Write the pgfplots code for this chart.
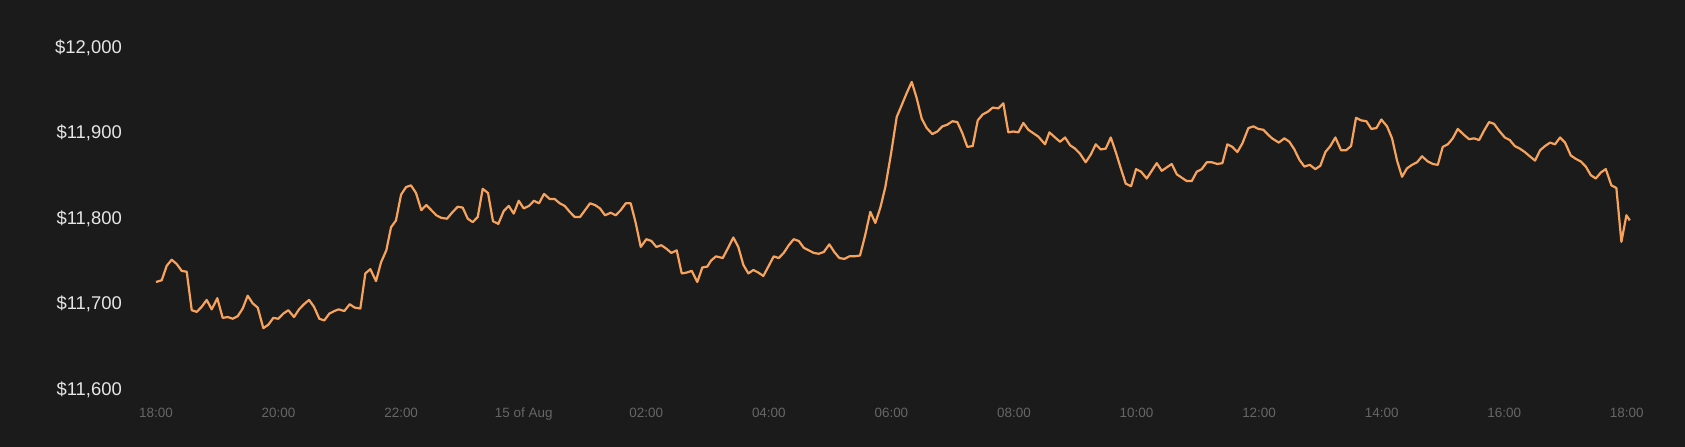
\documentclass[border=0pt]{standalone}
\usepackage{fontspec}
\setmainfont{Liberation Sans}
\usepackage{pgfplots}
\usepackage{pgfplotstable}
\pgfplotsset{compat=1.18}
\definecolor{bgc}{HTML}{1C1B1C}
\definecolor{linec}{HTML}{F7A35C}
\definecolor{ylab}{HTML}{E6E6E6}
\definecolor{xlab}{HTML}{666666}
\pgfplotstableread{
h v
0.000 11724
0.093 11726
0.175 11743
0.256 11750
0.338 11745
0.419 11737
0.501 11736
0.583 11691
0.664 11689
0.746 11695
0.827 11703
0.909 11692
1.000 11705
1.088 11682
1.170 11683
1.252 11681
1.333 11684
1.415 11693
1.496 11708
1.578 11699
1.660 11694
1.751 11670
1.833 11674
1.914 11682
1.996 11681
2.077 11687
2.159 11691
2.252 11683
2.334 11692
2.415 11698
2.497 11703
2.578 11695
2.665 11681
2.746 11679
2.828 11687
2.910 11690
2.981 11692
3.073 11690
3.161 11698
3.243 11694
3.334 11693
3.416 11734
3.497 11739
3.590 11725
3.672 11747
3.758 11761
3.835 11788
3.916 11796
3.998 11826
4.080 11835
4.161 11837
4.243 11828
4.329 11808
4.411 11814
4.493 11808
4.574 11802
4.656 11799
4.749 11798
4.830 11805
4.923 11812
5.005 11811
5.087 11798
5.168 11794
5.250 11800
5.331 11833
5.418 11828
5.499 11795
5.586 11792
5.674 11807
5.756 11813
5.837 11804
5.919 11819
6.000 11810
6.087 11813
6.168 11819
6.250 11816
6.332 11827
6.425 11821
6.506 11821
6.588 11816
6.669 11813
6.751 11806
6.832 11800
6.919 11800
7.001 11808
7.082 11816
7.164 11814
7.245 11810
7.327 11802
7.420 11805
7.502 11802
7.583 11808
7.665 11816
7.746 11816
7.828 11793
7.910 11765
8.001 11774
8.083 11772
8.164 11765
8.246 11767
8.327 11763
8.409 11758
8.497 11761
8.579 11734
8.660 11735
8.742 11737
8.833 11724
8.915 11741
8.996 11742
9.057 11749
9.138 11754
9.248 11752
9.329 11763
9.421 11776
9.502 11765
9.584 11744
9.666 11734
9.747 11738
9.829 11735
9.910 11731
9.992 11742
10.080 11754
10.162 11752
10.243 11758
10.325 11767
10.406 11774
10.488 11772
10.570 11764
10.651 11761
10.733 11758
10.814 11757
10.896 11759
10.987 11768
11.069 11759
11.151 11752
11.232 11751
11.314 11754
11.395 11754
11.488 11755
11.570 11778
11.656 11806
11.738 11793
11.820 11811
11.901 11835
11.994 11874
12.087 11917
12.169 11931
12.250 11945
12.332 11958
12.413 11939
12.495 11915
12.577 11904
12.668 11897
12.750 11900
12.831 11906
12.913 11908
12.995 11912
13.076 11911
13.158 11898
13.239 11882
13.327 11883
13.409 11913
13.490 11920
13.572 11923
13.654 11928
13.745 11927
13.827 11933
13.908 11899
13.990 11900
14.072 11899
14.153 11910
14.235 11902
14.316 11898
14.398 11894
14.507 11885
14.578 11899
14.671 11893
14.752 11888
14.834 11893
14.915 11884
14.997 11880
15.078 11874
15.171 11864
15.253 11873
15.335 11885
15.416 11879
15.498 11880
15.580 11893
15.661 11876
15.743 11857
15.824 11839
15.911 11836
15.992 11856
16.074 11853
16.167 11845
16.248 11854
16.330 11863
16.412 11854
16.493 11858
16.575 11862
16.656 11850
16.738 11846
16.820 11842
16.901 11842
16.983 11853
17.064 11856
17.146 11864
17.228 11864
17.319 11862
17.401 11863
17.482 11885
17.564 11882
17.645 11876
17.727 11886
17.825 11904
17.907 11906
17.988 11903
18.070 11902
18.151 11896
18.212 11892
18.321 11887
18.413 11892
18.494 11888
18.576 11879
18.657 11867
18.739 11859
18.827 11861
18.918 11856
19.000 11860
19.082 11876
19.163 11883
19.245 11893
19.338 11878
19.419 11878
19.501 11883
19.582 11916
19.664 11913
19.751 11912
19.832 11903
19.914 11904
19.995 11914
20.088 11906
20.170 11892
20.251 11866
20.333 11847
20.414 11857
20.496 11861
20.578 11864
20.659 11871
20.752 11865
20.834 11862
20.916 11861
20.997 11882
21.079 11885
21.160 11892
21.242 11903
21.345 11896
21.426 11891
21.508 11892
21.590 11890
21.671 11901
21.753 11911
21.834 11909
21.916 11901
22.009 11893
22.091 11890
22.172 11883
22.254 11880
22.335 11876
22.417 11871
22.503 11866
22.585 11878
22.666 11883
22.748 11887
22.829 11885
22.911 11893
22.993 11887
23.086 11872
23.167 11868
23.249 11865
23.331 11859
23.412 11849
23.494 11845
23.576 11852
23.657 11856
23.749 11837
23.830 11834
23.912 11771
23.994 11802
24.049 11796
}\price
\begin{document}
\begin{tikzpicture}
\fill[bgc] (0,0) rectangle (1685bp,447bp);
\begin{axis}[
  at={(131.5bp,59bp)}, anchor=south west,
  scale only axis,
  width=1525.9bp, height=342bp,
  xmin=-0.4, xmax=24.5,
  ymin=11600, ymax=12000,
  scaled ticks=false,
  axis line style={draw=none},
  major tick length=0pt,
  clip=false,
  xtick={0,2,4,6,8,10,12,14,16,18,20,22,24},
  xticklabels={18:00,20:00,22:00,15 of Aug,02:00,04:00,06:00,08:00,10:00,12:00,14:00,16:00,18:00},
  ytick={11600,11700,11800,11900,12000},
  yticklabels={{\$11,600},{\$11,700},{\$11,800},{\$11,900},{\$12,000}},
  xticklabel style={anchor=base, inner sep=0pt, yshift=-29bp, text=xlab, font=\fontsize{13.5}{15}\selectfont},
  yticklabel style={anchor=base east, inner sep=0pt, xshift=-9.5bp, yshift=-7.3bp, text=ylab, font=\fontsize{18.5}{20}\selectfont},
]
\addplot[linec, line width=2.2bp, line join=round, mark=none] table[x=h, y=v] {\price};
\end{axis}
\end{tikzpicture}
\end{document}
